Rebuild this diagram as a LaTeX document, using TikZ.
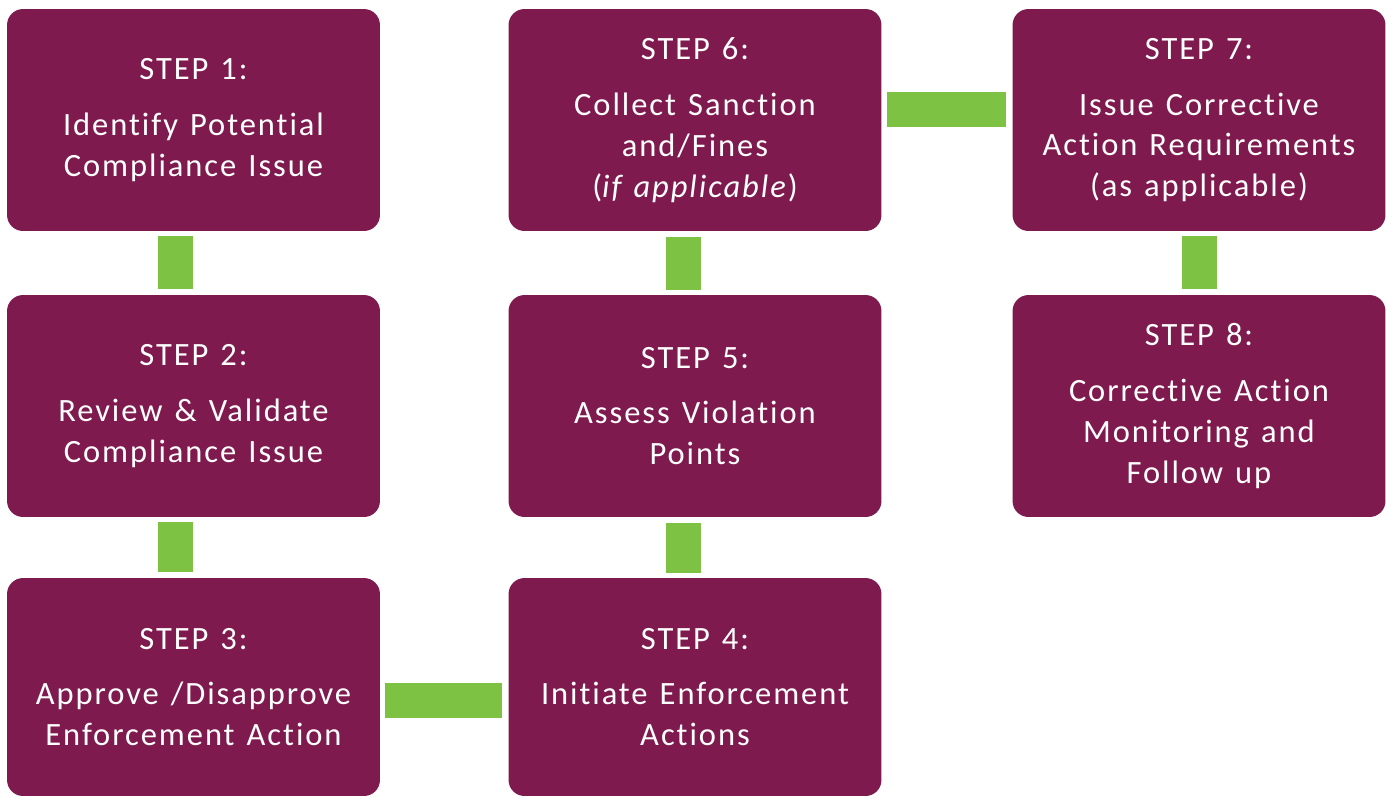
\documentclass[tikz,border=0pt]{standalone}
\usepackage{fontspec}
\setmainfont{Carlito}[LetterSpace=6,WordSpace=1.3,Ligatures=NoCommon]
\definecolor{plum}{HTML}{7F1A4F}
\definecolor{leaf}{HTML}{7DC242}
\tikzset{
  stepbox/.style={fill=plum, rounded corners=0.32cm, minimum width=7.46cm,
    minimum height=4.44cm, inner sep=0pt, align=center, text=white,
    font=\fontsize{18.5}{23.2}\selectfont},
  lastrow/.style={minimum height=4.36cm},
  link/.style={draw=leaf, line width=0.7cm, shorten <=0.1cm, shorten >=0.12cm}
}
\begin{document}
\begin{tikzpicture}[x=0.02cm,y=-0.02cm]
\useasboundingbox (0,0) rectangle (1386,796);
% first column
\node[stepbox] (s1) at (193.5,120) {STEP 1:\\[0.3cm]Identify Potential\\Compliance Issue};
\node[stepbox] (s2) at (193.5,406) {STEP 2:\\[0.3cm]Review \& Validate\\Compliance Issue};
\node[stepbox,lastrow] (s3) at (193.5,687) {STEP 3:\\[0.3cm]Approve /Disapprove\\Enforcement Action};
% second column
\node[stepbox,lastrow] (s4) at (695,687) {STEP 4:\\[0.3cm]Initiate Enforcement\\Actions};
\node[stepbox] (s5) at (695,406) {STEP 5:\\[0.3cm]Assess Violation\\Points};
\node[stepbox] (s6) at (695,120) {STEP 6:\\[0.3cm]Collect Sanction\\and/Fines\\(\textit{if applicable})};
% third column
\node[stepbox] (s7) at (1199,120) {STEP 7:\\[0.3cm]Issue Corrective\\Action Requirements\\(as applicable)};
\node[stepbox] (s8) at (1199,406) {STEP 8:\\[0.3cm]Corrective Action\\Monitoring and\\Follow up};
% green bars
\draw[link] ([xshift=-0.36cm]s1.south) -- ([xshift=-0.36cm]s2.north);
\draw[link] ([xshift=-0.36cm]s2.south) -- ([xshift=-0.36cm]s3.north);
\draw[link] ([yshift=-0.27cm]s3.east) -- ([yshift=-0.27cm]s4.west);
\draw[link] ([xshift=-0.23cm]s4.north) -- ([xshift=-0.23cm]s5.south);
\draw[link] ([xshift=-0.23cm]s5.north) -- ([xshift=-0.23cm]s6.south);
\draw[link] ([yshift=0.21cm]s6.east) -- ([yshift=0.21cm]s7.west);
\draw[link] (s7.south) -- (s8.north);
\end{tikzpicture}
\end{document}
